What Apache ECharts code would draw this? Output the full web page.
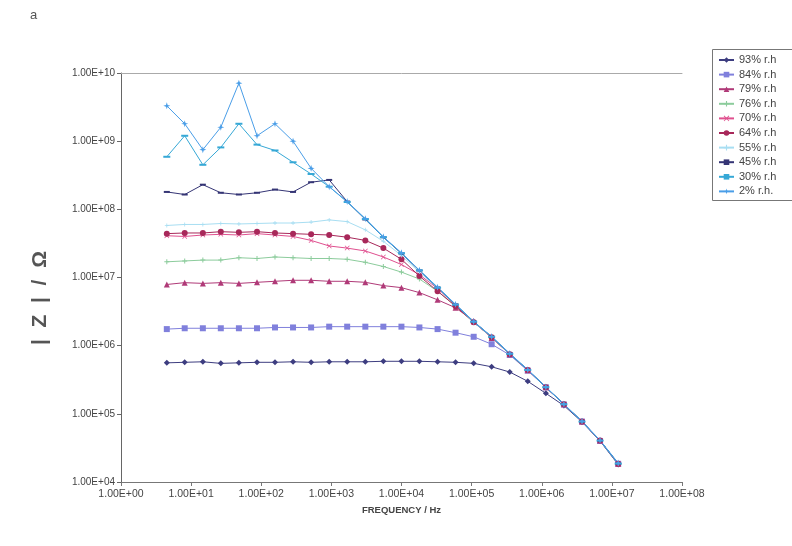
<!DOCTYPE html>
<html style="height: 100%">
<head>
<meta charset="utf-8">
</head>
<body style="height: 100%; margin: 0; background: #fff">
<div id="container" style="width: 792px; height: 546px"></div>
<script src="https://cdn.jsdelivr.net/npm/echarts@6/dist/echarts.min.js"></script>
<script>
// frequencies (Hz)
var freq = [4.5, 8.1, 14.7, 26.5, 48, 87, 157, 284, 514, 931, 1680, 3050, 5510, 9980,
  18000, 32700, 59000, 107000, 193000, 350000, 632000, 1145000, 2070000, 3750000, 6780000, 12300000];

// |Z| (ohm) for each relative humidity
var z93 = [5.6e5, 5.7e5, 5.8e5, 5.5e5, 5.6e5, 5.7e5, 5.7e5, 5.8e5, 5.7e5, 5.8e5, 5.8e5, 5.8e5, 5.9e5, 5.9e5,
  5.9e5, 5.8e5, 5.7e5, 5.5e5, 4.9e5, 4.1e5, 3.0e5, 2.0e5, 1.32e5, 7.6e4, 4.0e4, 1.8e4];
var z84 = [1.75e6, 1.8e6, 1.8e6, 1.8e6, 1.8e6, 1.8e6, 1.85e6, 1.85e6, 1.85e6, 1.9e6, 1.9e6, 1.9e6, 1.9e6, 1.9e6,
  1.85e6, 1.75e6, 1.55e6, 1.35e6, 1.05e6, 7.3e5, 4.3e5, 2.45e5, 1.37e5, 7.7e4, 4.0e4, 1.85e4];
var z79 = [7.9e6, 8.4e6, 8.2e6, 8.4e6, 8.2e6, 8.5e6, 8.8e6, 9.1e6, 9.1e6, 8.8e6, 8.8e6, 8.5e6, 7.6e6, 7.1e6,
  6.0e6, 4.7e6, 3.6e6, 2.3e6, 1.3e6, 7.5e5, 4.35e5, 2.45e5, 1.38e5, 7.7e4, 4.05e4, 1.85e4];
var z76 = [1.7e7, 1.75e7, 1.8e7, 1.8e7, 1.95e7, 1.9e7, 2.0e7, 1.95e7, 1.9e7, 1.9e7, 1.85e7, 1.67e7, 1.45e7, 1.2e7,
  9.5e6, 6.3e6, 3.8e6, 2.2e6, 1.32e6, 7.5e5, 4.4e5, 2.45e5, 1.38e5, 7.7e4, 4.05e4, 1.86e4];
var z70 = [4.1e7, 4.0e7, 4.2e7, 4.3e7, 4.2e7, 4.4e7, 4.2e7, 4.0e7, 3.5e7, 2.9e7, 2.7e7, 2.45e7, 2.0e7, 1.55e7,
  1.1e7, 6.9e6, 3.9e6, 2.2e6, 1.32e6, 7.5e5, 4.4e5, 2.45e5, 1.38e5, 7.7e4, 4.05e4, 1.86e4];
var z64 = [4.4e7, 4.5e7, 4.5e7, 4.7e7, 4.6e7, 4.7e7, 4.5e7, 4.4e7, 4.3e7, 4.2e7, 3.9e7, 3.5e7, 2.7e7, 1.85e7,
  1.05e7, 6.3e6, 3.8e6, 2.2e6, 1.33e6, 7.5e5, 4.4e5, 2.45e5, 1.38e5, 7.7e4, 4.05e4, 1.86e4];
var z55 = [5.8e7, 6.0e7, 6.0e7, 6.2e7, 6.1e7, 6.2e7, 6.3e7, 6.3e7, 6.5e7, 7.0e7, 6.6e7, 5.0e7, 3.4e7, 2.1e7,
  1.2e7, 7.0e6, 4.0e6, 2.2e6, 1.33e6, 7.5e5, 4.4e5, 2.45e5, 1.38e5, 7.7e4, 4.05e4, 1.86e4];
var z45 = [1.8e8, 1.65e8, 2.3e8, 1.75e8, 1.65e8, 1.75e8, 1.95e8, 1.8e8, 2.5e8, 2.7e8, 1.3e8, 7.1e7, 3.9e7, 2.25e7,
  1.27e7, 7.1e6, 4.0e6, 2.25e6, 1.35e6, 7.6e5, 4.4e5, 2.46e5, 1.38e5, 7.7e4, 4.05e4, 1.86e4];
var z30 = [5.9e8, 1.2e9, 4.5e8, 8.1e8, 1.8e9, 8.9e8, 7.3e8, 4.9e8, 3.3e8, 2.15e8, 1.28e8, 7.2e7, 3.9e7, 2.27e7,
  1.27e7, 7.1e6, 4.0e6, 2.25e6, 1.35e6, 7.6e5, 4.4e5, 2.46e5, 1.38e5, 7.7e4, 4.05e4, 1.86e4];
var z2 = [3.3e9, 1.8e9, 7.5e8, 1.6e9, 7.1e9, 1.2e9, 1.8e9, 1.0e9, 4.0e8, 2.15e8, 1.3e8, 7.3e7, 3.95e7, 2.3e7,
  1.28e7, 7.2e6, 4.05e6, 2.27e6, 1.36e6, 7.7e5, 4.45e5, 2.48e5, 1.39e5, 7.8e4, 4.1e4, 1.9e4];

var names = ['93% r.h', '84% r.h', '79% r.h', '76% r.h', '70% r.h', '64% r.h', '55% r.h', '45% r.h', '30% r.h', '2% r.h.'];
var values = [z93, z84, z79, z76, z70, z64, z55, z45, z30, z2];

var PLUS = 'path://M4,0L6,0L6,4L10,4L10,6L6,6L6,10L4,10L4,6L0,6L0,4L4,4Z';
var CROSS = 'path://M1,0L5,4L9,0L10,1L6,5L10,9L9,10L5,6L1,10L0,9L4,5L0,1Z';
var STAR = 'path://M5,0L6.2,3.8L10,5L6.2,6.2L5,10L3.8,6.2L0,5L3.8,3.8Z';
var styles = [
  { color: '#3d3d80', symbol: 'diamond', size: 6 },
  { color: '#8080dc', symbol: 'rect', size: 6 },
  { color: '#b03a78', symbol: 'triangle', size: 6 },
  { color: '#8ccc9c', symbol: PLUS, size: 5 },
  { color: '#e0508f', symbol: CROSS, size: 5 },
  { color: '#a8285a', symbol: 'circle', size: 6 },
  { color: '#a8def2', symbol: PLUS, size: 4 },
  { color: '#353575', symbol: 'rect', size: [6, 2] },
  { color: '#36a8d6', symbol: 'rect', size: [7, 2] },
  { color: '#4a9ee8', symbol: STAR, size: 7 }
];

function sci(v) {
  var e = Math.round(Math.log10(v));
  return '1.00E' + (e < 0 ? '-' : '+') + (Math.abs(e) < 10 ? '0' : '') + Math.abs(e);
}

var seriesList = [];
names.forEach(function (name, k) {
  var st = styles[k];
  seriesList.push({
    name: name,
    type: 'line',
    data: freq.map(function (f, i) { return [f, values[k][i]]; }),
    symbol: st.symbol,
    symbolSize: st.size,
    showSymbol: true,
    itemStyle: { color: st.color },
    lineStyle: { color: st.color, width: 1 },
    animation: false
  });
});

var chart = echarts.init(document.getElementById('container'));
var font = 'Liberation Sans, Arial, sans-serif';
var option = {
  backgroundColor: '#fff',
  textStyle: { fontFamily: font },
  grid: { left: 121, right: 110, top: 73, bottom: 64 },
  legend: {
    orient: 'vertical',
    left: 718,
    top: 54.5,
    padding: 0,
    itemWidth: 15,
    itemHeight: 7,
    itemGap: 3.6,
    textStyle: { fontSize: 11, color: '#444', fontFamily: font },
    data: names
  },
  graphic: [
    { type: 'rect', shape: { x: 712.5, y: 49.5, width: 100, height: 151 },
      style: { fill: 'none', stroke: '#777', lineWidth: 1 } },
    { type: 'text', left: 30, top: 9, style: { text: 'a', fontSize: 13, fill: '#555', fontFamily: font } },
    { type: 'text', x: 40, y: 298, rotation: Math.PI / 2,
      style: { text: '|  Z  |  /  Ω', fontSize: 21, fontWeight: 'bold', fill: '#555', fontFamily: font,
        align: 'center', verticalAlign: 'middle' } }
  ],
  xAxis: [{
    type: 'log', logBase: 10, min: 1, max: 1e8,
    name: 'FREQUENCY / Hz', nameLocation: 'middle', nameGap: 23,
    nameTextStyle: { fontSize: 9.5, fontWeight: 'bold', color: '#444' },
    axisLine: { lineStyle: { color: '#777' } },
    axisTick: { length: 4, lineStyle: { color: '#777' } },
    minorTick: { show: false },
    splitLine: { show: false },
    axisLabel: { formatter: sci, fontSize: 10.5, color: '#444', margin: 7 }
  }, {
    type: 'log', logBase: 10, min: 1, max: 1e8, position: 'top',
    axisLine: { lineStyle: { color: '#aaa' } },
    axisTick: { show: false }, axisLabel: { show: false }, splitLine: { show: false }
  }],
  yAxis: {
    type: 'log', logBase: 10, min: 1e4, max: 1e10,
    axisLine: { lineStyle: { color: '#666' } },
    axisTick: { length: 4, lineStyle: { color: '#666' } },
    splitLine: { show: false },
    axisLabel: { formatter: sci, fontSize: 10, color: '#444', margin: 6 }
  },
  series: seriesList
};
chart.setOption(option);
</script>
</body>
</html>
